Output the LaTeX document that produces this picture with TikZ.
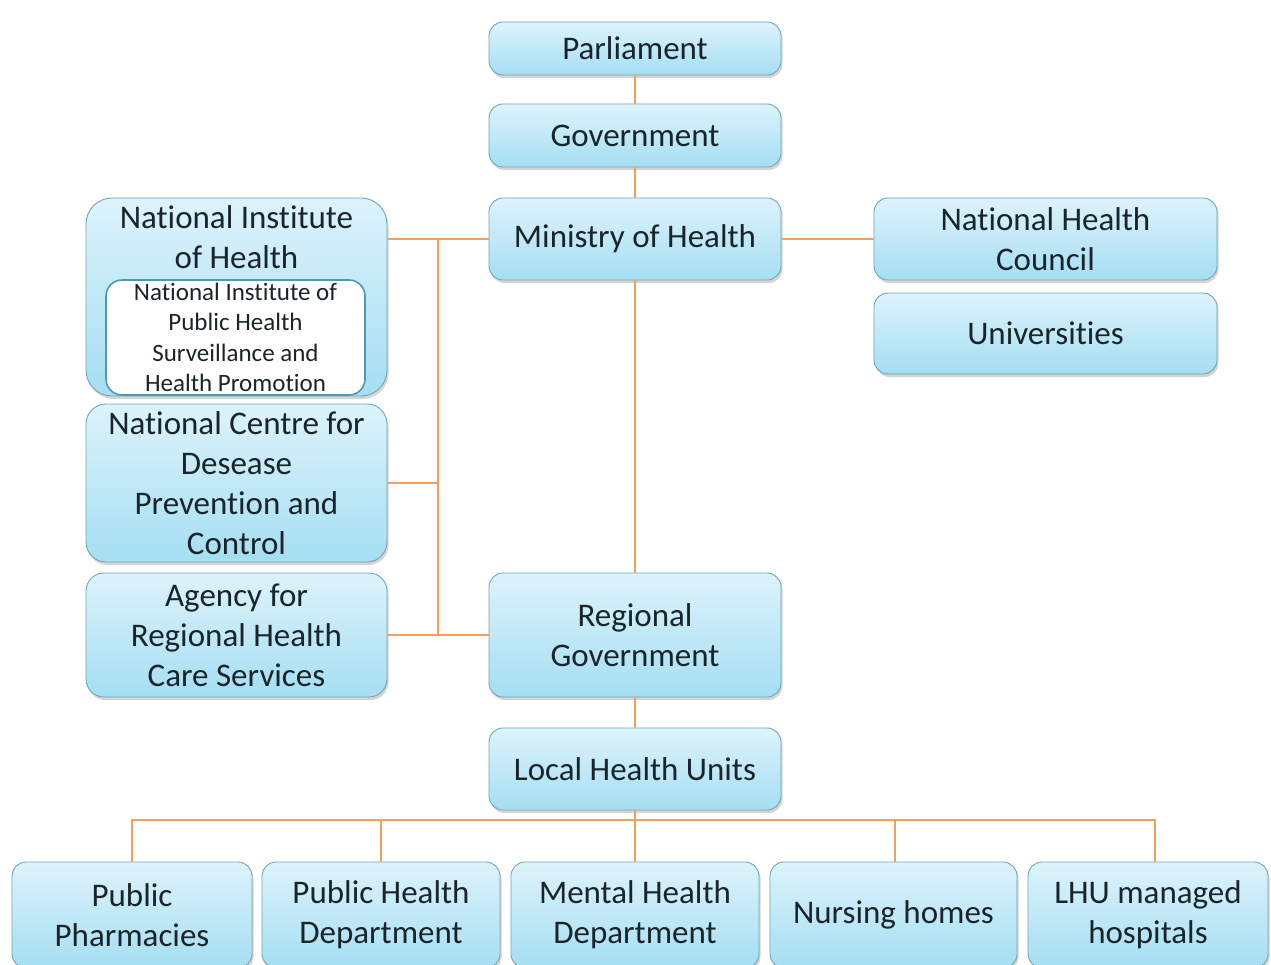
\documentclass[tikz,border=0pt]{standalone}
\usepackage{fontspec}
\setmainfont{Carlito}[Ligatures=NoCommon]
\usetikzlibrary{shadows}
\definecolor{boxtop}{HTML}{DDF3FB}
\definecolor{boxbot}{HTML}{A5DEF2}
\definecolor{boxline}{HTML}{6FA7BA}
\definecolor{innerline}{HTML}{4A9BB0}
\definecolor{linkc}{HTML}{F5A05A}
\definecolor{txt}{HTML}{1A252B}
\tikzset{
  orgbox/.style={rounded corners=14pt, draw=boxline, line width=0.9pt,
    top color=boxtop, bottom color=boxbot, text=txt, align=center,
    inner sep=0pt, font=\fontsize{33}{40}\selectfont,
    drop shadow={shadow xshift=1.5pt, shadow yshift=-3pt, opacity=0.28, fill=black!60}},
  innerbox/.style={rounded corners=16pt, draw=innerline, line width=1.6pt,
    fill=white, text=txt, align=center, inner sep=0pt,
    font=\fontsize{25}{30.5}\selectfont},
  plain/.style={text=txt, align=center, inner sep=0pt,
    font=\fontsize{33}{40}\selectfont},
  link/.style={draw=linkc, line width=1.8pt}
}
\begin{document}
\begin{tikzpicture}[x=1pt,y=-1pt]
\fill[white] (0,0) rectangle (1271,965);
\useasboundingbox (0,0) rectangle (1271,965);

% central column
\node[orgbox, minimum width=292pt, minimum height=53pt] (parl) at (635,48.5) {Parliament};
\node[orgbox, minimum width=292pt, minimum height=63pt] (gov) at (635,135.5) {Government};
\node[orgbox, minimum width=292pt, minimum height=82pt] (moh) at (635,239) {Ministry of Health};
\node[orgbox, minimum width=292pt, minimum height=124pt] (regov) at (635,635) {Regional\\Government};
\node[orgbox, minimum width=292pt, minimum height=82pt] (lhu) at (635,769) {Local Health Units};

% national institutes on the left
\node[orgbox, rounded corners=26pt, minimum width=301pt, minimum height=198pt] (nih) at (236.5,297) {};
\node[plain] (nihtitle) at (236.5,237) {National Institute\\of Health};
\node[innerbox, minimum width=259pt, minimum height=115pt] (niph) at (235.5,337.5)
  {National Institute of\\Public Health\\Surveillance and\\Health Promotion};
\node[orgbox, rounded corners=20pt, minimum width=301pt, minimum height=158pt] (ncdpc) at (236.5,483)
  {National Centre for\\Desease\\Prevention and\\Control};
\node[orgbox, rounded corners=18pt, minimum width=301pt, minimum height=124pt] (agency) at (236.5,635)
  {Agency for\\Regional Health\\Care Services};

% advisory bodies on the right
\node[orgbox, minimum width=343pt, minimum height=82pt] (nhc) at (1045.5,239) {National Health\\Council};
\node[orgbox, minimum width=343pt, minimum height=81pt] (univ) at (1045.5,333.5) {Universities};

% local health unit services
\node[orgbox, minimum width=240pt, minimum height=106pt] (pph) at (132,915) {Public\\Pharmacies};
\node[orgbox, minimum width=238pt, minimum height=106pt] (phd) at (381,915) {Public Health\\Department};
\node[orgbox, minimum width=248pt, minimum height=106pt] (mhd) at (635,915) {Mental Health\\Department};
\node[orgbox, minimum width=247pt, minimum height=106pt] (nh) at (893.5,915) {Nursing homes};
\node[orgbox, minimum width=240pt, minimum height=106pt] (lhuh) at (1148,915) {LHU managed\\hospitals};

% junction points
\coordinate (jt) at (438,239);
\coordinate (jm) at (438,483);
\coordinate (jb) at (438,635);
\coordinate (bus) at (635,820);
\coordinate (nhtop) at (895,862);
\coordinate (lhuhtop) at (1155,862);

% connectors
\draw[link] (parl) -- (gov);
\draw[link] (gov) -- (moh);
\draw[link] (moh) -- (regov);
\draw[link] (regov) -- (lhu);
\draw[link] (moh.west) -- (moh.west -| nih.east);
\draw[link] (jt) -- (jb);
\draw[link] (ncdpc.east) -- (jm);
\draw[link] (agency.east) -- (regov.west);
\draw[link] (moh.east) -- (nhc.west);
\draw[link] (lhu.south) -- (bus);
\draw[link] (pph.north) |- (bus) -| (lhuhtop);
\draw[link] (phd.north) -- (phd.north |- bus);
\draw[link] (mhd.north) -- (bus);
\draw[link] (nhtop) -- (nhtop |- bus);
\end{tikzpicture}
\end{document}
